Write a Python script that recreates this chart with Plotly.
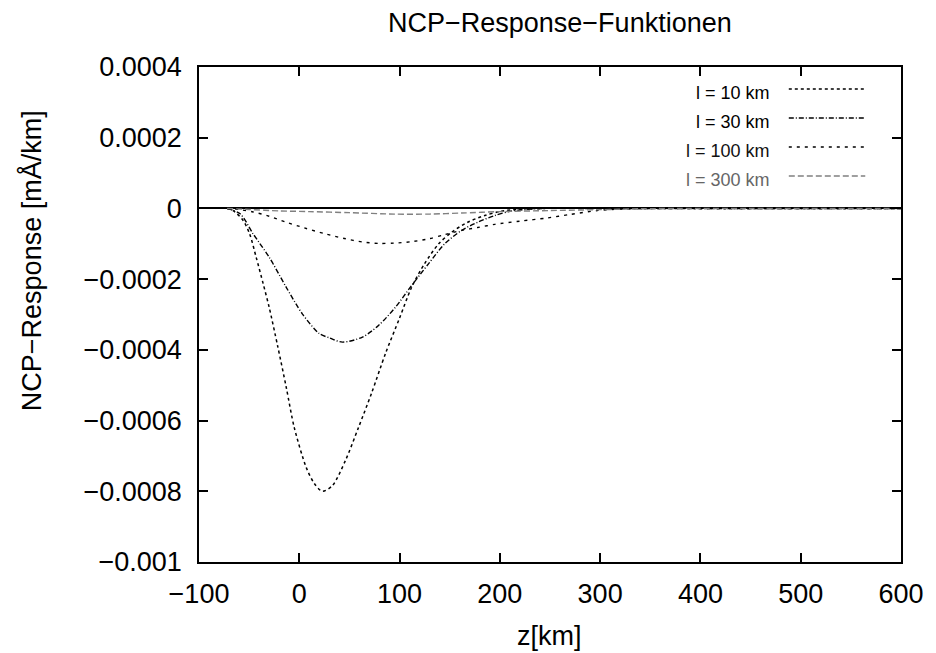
import plotly.graph_objects as go

# ---- data ----
z_l10 = [-72, -66, -56, -49.5, -43, -36, -30, -21.5, -13, -5, 7, 15, 23, 33, 46, 59, 72, 86,
         100, 112, 125, 139, 152, 168, 185, 201, 220, 240, 300, 400, 500, 600]
v_l10 = [0, -0.06e-4, -0.34e-4, -0.72e-4, -1.38e-4, -2.13e-4, -2.8e-4, -3.9e-4, -5.06e-4, -6.2e-4,
         -7.33e-4, -7.78e-4, -8.0e-4, -7.84e-4, -7.13e-4, -6.2e-4, -5.23e-4, -4.1e-4,
         -3.1e-4, -2.23e-4, -1.56e-4, -1.0e-4, -0.67e-4, -0.39e-4, -0.2e-4, -0.08e-4, -0.02e-4,
         0, 0, 0, 0, 0]

z_l30 = [-72, -59, -46, -30, -13, 3, 20, 30, 43, 63, 79, 96, 112, 129, 145, 162, 178, 195,
         210, 225, 245, 300, 400, 500, 600]
v_l30 = [0, -0.15e-4, -0.72e-4, -1.38e-4, -2.23e-4, -2.98e-4, -3.54e-4, -3.66e-4, -3.78e-4,
         -3.64e-4, -3.31e-4, -2.79e-4, -2.18e-4, -1.56e-4, -1.0e-4, -0.62e-4, -0.39e-4,
         -0.2e-4, -0.08e-4, -0.03e-4, 0, 0, 0, 0, 0]

z_l100 = [-72, -60, -46, -30, -13, 5, 26, 45, 63, 80, 95, 112, 129, 145, 162, 178, 195, 220,
          247, 270, 297, 320, 345, 400, 500, 600]
v_l100 = [0, -0.03e-4, -0.1e-4, -0.22e-4, -0.39e-4, -0.55e-4, -0.72e-4, -0.85e-4, -0.95e-4,
          -0.99e-4, -0.98e-4, -0.94e-4, -0.86e-4, -0.74e-4, -0.62e-4, -0.54e-4, -0.45e-4,
          -0.36e-4, -0.27e-4, -0.17e-4, -0.06e-4, -0.02e-4, 0, 0, 0, 0]

z_l300 = [-72, -50, -20, 10, 50, 95, 130, 162, 200, 250, 300, 340, 380, 450, 600]
v_l300 = [0, -0.03e-4, -0.07e-4, -0.09e-4, -0.12e-4, -0.16e-4, -0.16e-4, -0.13e-4, -0.09e-4,
          -0.06e-4, -0.035e-4, -0.01e-4, 0, 0, 0]

series_names = ["l = 10 km", "l = 30 km", "l = 100 km", "l = 300 km"]

y_tickvals = [0.0004, 0.0002, 0, -0.0002, -0.0004, -0.0006, -0.0008, -0.001]
y_ticktext = ["0.0004", "0.0002", "0", "\u22120.0002", "\u22120.0004", "\u22120.0006",
              "\u22120.0008", "\u22120.001"]
x_tickvals = [-100, 0, 100, 200, 300, 400, 500, 600]
x_ticktext = ["\u2212100", "0", "100", "200", "300", "400", "500", "600"]

# ---- styles ----
FONT = "Liberation Sans, Arial, sans-serif"
styles = [
    dict(color="black", dash="3px,3px", width=1.5),
    dict(color="black", dash="5px,2px,1px,2px", width=1.4),
    dict(color="black", dash="3px,5px", width=1.4),
    dict(color="#808080", dash="6px,3px", width=1.4),
]
text_colors = ["#000000", "#000000", "#111111", "#666666"]

W, H = 936, 653
L, R, T, B = 199, 30, 67, 91
pw, ph = W - L - R, H - T - B


def px_x(px):
    return (px - L) / pw


def px_y(py):
    return 1 - (py - T) / ph


fig = go.Figure()
data = [(z_l10, v_l10), (z_l30, v_l30), (z_l100, v_l100), (z_l300, v_l300)]
for (zs, vs), name, st in zip(data, series_names, styles):
    fig.add_trace(go.Scatter(x=zs, y=vs, mode="lines", name=name,
                             line=dict(shape="spline", smoothing=0.8, **st),
                             showlegend=False))

annotations = []
shapes = []
legend_y = [93, 122, 151, 180]
for name, st, tc, ly in zip(series_names, styles, text_colors, legend_y):
    annotations.append(dict(x=px_x(776), y=px_y(ly), xref="paper", yref="paper",
                            text=name, showarrow=False, xanchor="right", yanchor="middle",
                            font=dict(family=FONT, size=18, color=tc)))
    shapes.append(dict(type="line", xref="paper", yref="paper",
                       x0=px_x(793), x1=px_x(870), y0=px_y(ly - 4), y1=px_y(ly - 4),
                       line=dict(color=st["color"], dash=st["dash"], width=st["width"])))

annotations.append(dict(x=px_x(563), y=px_y(23), xref="paper", yref="paper",
                        text="NCP\u2212Response\u2212Funktionen", showarrow=False,
                        xanchor="center", yanchor="middle",
                        font=dict(family=FONT, size=27, color="black")))
annotations.append(dict(x=px_x(30), y=px_y(261), xref="paper", yref="paper",
                        text="NCP\u2212Response [mÅ/km]", showarrow=False, textangle=-90,
                        xanchor="center", yanchor="middle",
                        font=dict(family=FONT, size=27, color="black")))
annotations.append(dict(x=px_x(552), y=px_y(636), xref="paper", yref="paper",
                        text="z[km]", showarrow=False,
                        xanchor="center", yanchor="middle",
                        font=dict(family=FONT, size=27, color="black")))

axis_common = dict(showline=True, linecolor="black", linewidth=1.6, mirror="ticks",
                   ticks="inside", ticklen=9, tickwidth=1.6, tickcolor="black",
                   showgrid=False, tickfont=dict(family=FONT, size=27, color="black"))

fig.update_layout(
    width=W, height=H,
    margin=dict(l=L, r=R, t=T, b=B),
    paper_bgcolor="white", plot_bgcolor="white",
    showlegend=False,
    annotations=annotations,
    shapes=shapes,
    xaxis=dict(range=[-100, 600], tickvals=x_tickvals, ticktext=x_ticktext,
               zeroline=False, ticklabelstandoff=7, **axis_common),
    yaxis=dict(range=[-0.001, 0.0004], tickvals=y_tickvals, ticktext=y_ticktext,
               zeroline=True, zerolinecolor="black", zerolinewidth=1.6,
               ticklabelstandoff=10, **axis_common),
)

fig.write_html("out.html")
